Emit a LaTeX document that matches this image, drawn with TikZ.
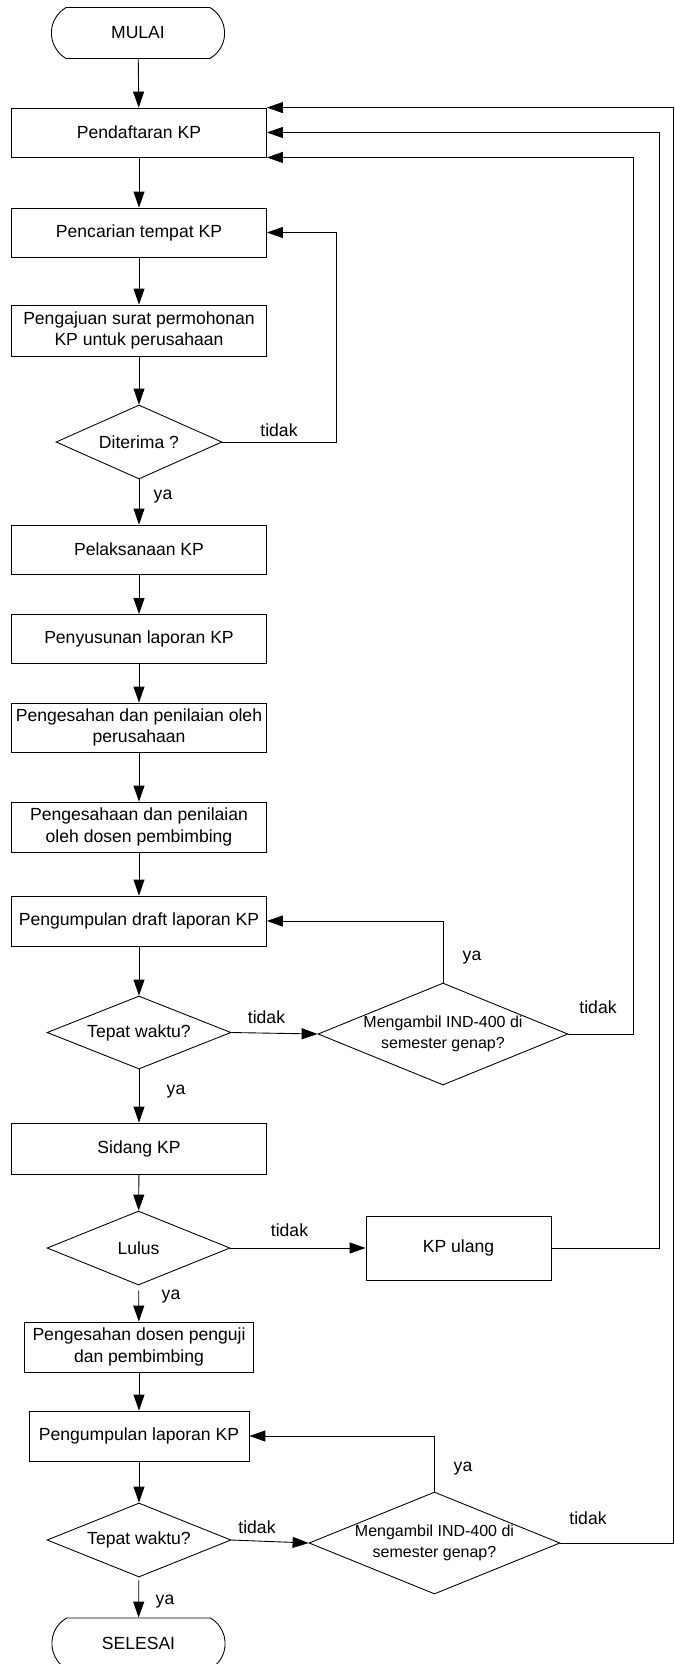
\documentclass[tikz,border=0pt]{standalone}
\usepackage{fontspec}
\setmainfont{Liberation Sans}
\usetikzlibrary{shapes.geometric,shapes.misc,arrows.meta}

\begin{document}
\begin{tikzpicture}[x=0.02cm,y=-0.02cm,
  font=\fontsize{10}{12.3}\selectfont,
  line width=0.5pt,
  >={Triangle[length=0.32cm,width=0.22cm]},
  proses/.style={draw,rectangle,minimum width=5.1cm,minimum height=0.98cm,align=center,inner sep=1pt},
  terminal/.style={draw,rounded rectangle,rounded rectangle arc length=120,minimum width=3.7cm,minimum height=1.02cm},
  keputusan/.style={draw,diamond,aspect=2.45,inner sep=0pt,align=center},
  pilih/.style={inner sep=0pt}]
\useasboundingbox (0,0) rectangle (674,1664);

\node[terminal] (mulai) at (138,33) {MULAI};
\node[proses] (daftar) at (139,132.5) {Pendaftaran KP};
\node[proses] (cari) at (139,232.5) {Pencarian tempat KP};
\node[proses,minimum height=1.02cm] (ajuan) at (139,330.5) {Pengajuan surat permohonan\\KP untuk perusahaan};
\node[keputusan,minimum width=3.32cm,minimum height=1.48cm] (terima) at (139,442) {Diterima ?};
\node[proses] (laksana) at (139,549.5) {Pelaksanaan KP};
\node[proses] (susun) at (139,639) {Penyusunan laporan KP};
\node[proses] (sahprs) at (139,727.5) {Pengesahan dan penilaian oleh\\perusahaan};
\node[proses,minimum height=1.0cm] (sahdsn) at (139,827) {Pengesahaan dan penilaian\\oleh dosen pembimbing};
\node[proses,minimum height=1.0cm] (draft) at (139,921) {Pengumpulan draft laporan KP};
\node[keputusan,minimum width=3.68cm,minimum height=1.46cm] (tepat1) at (139,1032.5) {Tepat waktu?};
\node[keputusan,minimum width=5.0cm,minimum height=2.04cm,font=\fontsize{9.1}{11.8}\selectfont] (ambil1) at (443,1034) {Mengambil IND-400 di\\semester genap?};
\node[proses,minimum height=1.02cm] (sidang) at (139,1148.5) {Sidang KP};
\node[keputusan,minimum width=3.66cm,minimum height=1.48cm] (lulus) at (138.5,1248) {Lulus};
\node[proses,minimum width=3.7cm,minimum height=1.28cm] (ulang) at (458.5,1248) {KP ulang};
\node[proses,minimum width=4.58cm,minimum height=1.0cm] (sahuji) at (139,1347) {Pengesahan dosen penguji\\dan pembimbing};
\node[proses,minimum width=4.4cm,minimum height=1.0cm] (kumpul) at (139,1436) {Pengumpulan laporan KP};
\node[keputusan,minimum width=3.68cm,minimum height=1.48cm] (tepat2) at (139,1540) {Tepat waktu?};
\node[keputusan,minimum width=5.02cm,minimum height=2.04cm,font=\fontsize{9.1}{11.8}\selectfont] (ambil2) at (434.5,1543) {Mengambil IND-400 di\\semester genap?};
\node[terminal] (selesai) at (138.5,1643.5) {SELESAI};

\node[pilih] (t1) at (279,430) {tidak};
\node[pilih] (y1) at (163,497) {ya};
\node[pilih] (t2) at (266.5,1017) {tidak};
\node[pilih] (y2) at (472,958) {ya};
\node[pilih] (t3) at (598,1007) {tidak};
\node[pilih] (y3) at (176,1092) {ya};
\node[pilih] (t4) at (289.5,1230) {tidak};
\node[pilih] (y4) at (171,1297) {ya};
\node[pilih] (t5) at (257,1527) {tidak};
\node[pilih] (y5) at (463,1469) {ya};
\node[pilih] (t6) at (588,1518) {tidak};
\node[pilih] (y6) at (165,1602) {ya};

\coordinate (k1) at (336,442);
\coordinate (k2) at (633,1034);
\coordinate (k3) at (659,1248);
\coordinate (k4) at (673,1543);

\draw[->] (mulai) -- (daftar);
\draw[->] (daftar) -- (cari);
\draw[->] (cari) -- (ajuan);
\draw[->] (ajuan) -- (terima);
\draw[->] (terima) -- (laksana);
\draw[->] (terima.east) -- (k1) |- (cari.east);
\draw[->] (laksana) -- (susun);
\draw[->] (susun) -- (sahprs);
\draw[->] (sahprs) -- (sahdsn);
\draw[->] (sahdsn) -- (draft);
\draw[->] (draft) -- (tepat1);
\draw[->] (tepat1) -- (sidang);
\draw[->] (tepat1.east) -- (ambil1.west);
\draw[->] (ambil1.north) |- (draft.east);
\draw[->] (ambil1.east) -- (k2) |- (daftar.south east);
\draw[->] (sidang) -- (lulus);
\draw[->] (lulus.east) -- (ulang.west);
\draw[->] (ulang.east) -- (k3) |- (daftar.east);
\draw[->,shorten <=0.1cm] (lulus) -- (sahuji);
\draw[->] (sahuji) -- (kumpul);
\draw[->] (kumpul) -- (tepat2);
\draw[->,shorten <=0.06cm] (tepat2) -- (selesai);
\draw[->] (tepat2.east) -- (ambil2.west);
\draw[->] (ambil2.north) |- (kumpul.east);
\draw[->] (ambil2.east) -- (k4) |- (daftar.north east);

\end{tikzpicture}
\end{document}
